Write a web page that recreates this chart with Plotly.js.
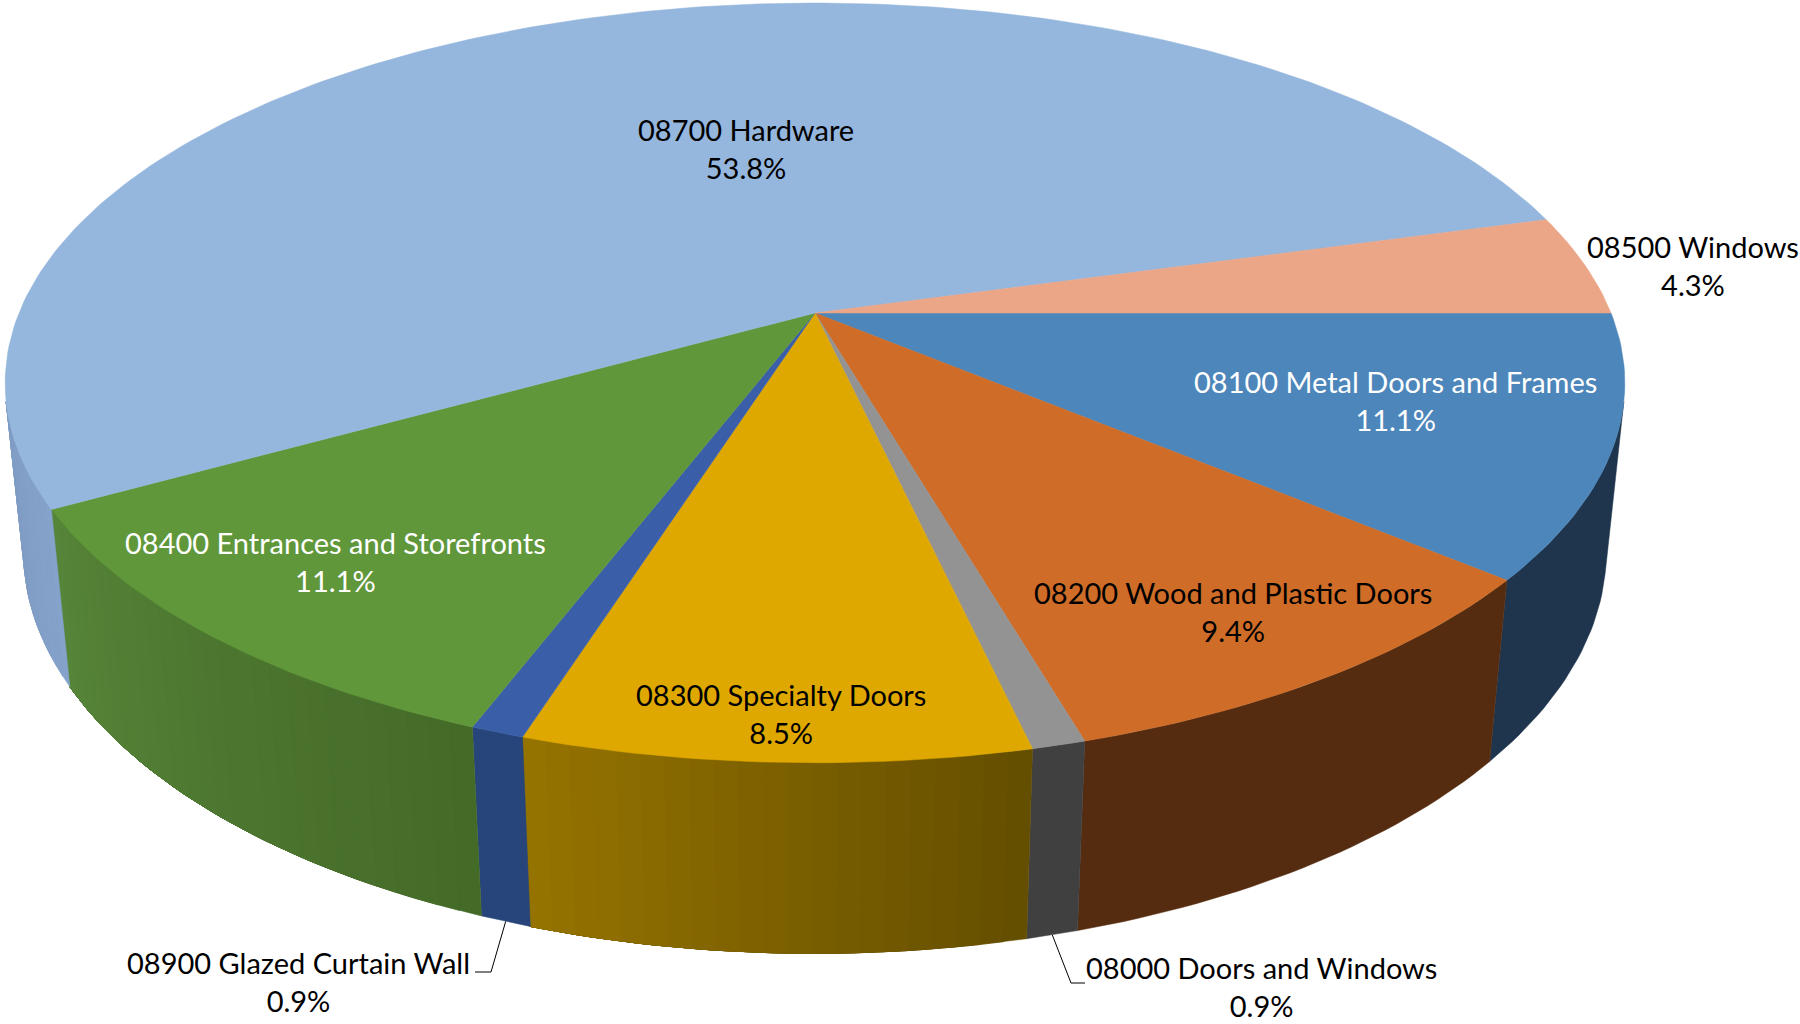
<!DOCTYPE html>
<html>
<head>
<meta charset="utf-8">
<script src="https://cdn.plot.ly/plotly-3.0.1.min.js"></script>
<style>html,body{margin:0;padding:0;background:#fff}#chart{width:1800px;height:1024px}</style>
</head>
<body>
<div id="chart"></div>
<script>
// Slices run clockwise from the 3 o'clock position.
const categories = ["08100 Metal Doors and Frames", "08200 Wood and Plastic Doors", "08000 Doors and Windows",
  "08300 Specialty Doors", "08900 Glazed Curtain Wall", "08400 Entrances and Storefronts", "08700 Hardware", "08500 Windows"];
const shares = [11.1, 9.4, 0.9, 8.5, 0.9, 11.1, 53.8, 4.3];
const topColors = ["#4D86BA", "#CE6C28", "#939393", "#DFA800", "#3A5FA8", "#60973B", "#95B6DD", "#EBA587"];
const rimStart = ["#1F354D", "#552C10", "#404040", "#634D00", "#27457A", "#446928", "#84A2CA", "#9A6A52"];
const rimEnd = ["#1F354D", "#552C10", "#404040", "#967400", "#27457A", "#568538", "#7F9CC4", "#9A6A52"];
const labelColors = ["#FFFFFF", "#000000", "#000000", "#000000", "#000000", "#FFFFFF", "#000000", "#000000"];

// Perspective projection of the disc: h = 0 is the top face, h = 1 the bottom rim.
const cam = {cx: 815, cy: 313, a: 796, b: 367, k: 0.184, m: 0.0226, e: -170};
function project(deg, radius, h) {
  const t = deg * Math.PI / 180;
  const u = radius * Math.cos(t), v = -radius * Math.sin(t);
  const w = 1 + cam.k * v + cam.m * h;
  return [cam.cx + cam.a * u / w, cam.cy - (cam.b * v + cam.e * h) / w];
}

function mix(c1, c2, f) {
  const p = c => [1, 3, 5].map(i => parseInt(c.substr(i, 2), 16));
  const a = p(c1), b = p(c2);
  return "rgb(" + a.map((x, i) => Math.round(x + (b[i] - x) * f)).join(",") + ")";
}

const total = shares.reduce((s, x) => s + x, 0);
let cursor = 0;
const spans = shares.map(s => {
  const from = cursor;
  cursor += s / total * 360;
  return [from, cursor];
});

// The outer wall is visible between the two silhouette angles of the projected disc.
const wallFrom = 13.4, wallTo = 166.6;

const rimTraces = [], faceTraces = [];
categories.forEach((name, i) => {
  const from = Math.max(spans[i][0], wallFrom), to = Math.min(spans[i][1], wallTo);
  if (to > from) {
    // Each shaded strip runs on to the slice's end and the next one paints over it,
    // so no background shows through between neighbouring strips.
    const sameShade = rimStart[i] === rimEnd[i];
    const n = sameShade ? 1 : Math.max(2, Math.ceil((to - from) / 1.5));
    for (let j = 0; j < n; j++) {
      const a0 = from + (to - from) * j / n;
      const col = mix(rimStart[i], rimEnd[i], (j + 0.5) / n);
      const xs = [], ys = [];
      const steps = Math.max(2, Math.ceil((to - a0) / 1));
      for (let s = 0; s <= steps; s++) {
        const p = project(a0 + (to - a0) * s / steps, 1, 0);
        xs.push(p[0]); ys.push(p[1]);
      }
      for (let s = steps; s >= 0; s--) {
        const p = project(a0 + (to - a0) * s / steps, 1, 1);
        xs.push(p[0]); ys.push(p[1]);
      }
      xs.push(xs[0]); ys.push(ys[0]);
      rimTraces.push({
        type: "scatter", mode: "lines", fill: "toself", fillcolor: col, name: name,
        x: xs, y: ys, line: {color: col, width: 0.5}, hoverinfo: "skip", showlegend: false
      });
    }
  }
  // Top face wedge.
  const xs = [cam.cx], ys = [cam.cy];
  const steps = Math.max(2, Math.ceil((spans[i][1] - spans[i][0]) / 1));
  for (let j = 0; j <= steps; j++) {
    const p = project(spans[i][0] + (spans[i][1] - spans[i][0]) * j / steps, 1, 0);
    xs.push(p[0]); ys.push(p[1]);
  }
  xs.push(cam.cx); ys.push(cam.cy);
  faceTraces.push({
    type: "scatter", mode: "lines", fill: "toself", fillcolor: topColors[i], name: name,
    x: xs, y: ys, line: {color: topColors[i], width: 0.5},
    text: name + ": " + shares[i].toFixed(1) + "%", hoverinfo: "text", showlegend: false
  });
});

// Leader lines for the two thin slices, from the rim out to an elbow beside the label.
const elbows = {2: [[1071, 983], [1085, 983]], 4: [[491, 972], [475, 972]]};
const leaders = Object.keys(elbows).map(k => {
  const i = +k;
  const start = project((spans[i][0] + spans[i][1]) / 2, 1, 1);
  const path = [start].concat(elbows[k]);
  return {
    type: "scatter", mode: "lines", x: path.map(p => p[0]), y: path.map(p => p[1]),
    line: {color: "#000000", width: 1}, hoverinfo: "skip", showlegend: false
  };
});

const labelAt = [[1395, 400], [1233, 611], [1261, 986], [781, 713], [298, 981], [335, 561], [746, 148], [1693, 265]];
const annotations = categories.map((name, i) => ({
  x: labelAt[i][0], y: labelAt[i][1], xref: "x", yref: "y", showarrow: false, align: "center",
  text: name + "<br>" + shares[i].toFixed(1) + "%",
  font: {family: "Lato, Carlito, sans-serif", size: 29, color: labelColors[i]}
}));

Plotly.newPlot("chart", rimTraces.concat(faceTraces, leaders), {
  width: 1800, height: 1024, margin: {l: 0, r: 0, t: 0, b: 0},
  paper_bgcolor: "#FFFFFF", plot_bgcolor: "#FFFFFF", showlegend: false,
  xaxis: {range: [0, 1800], visible: false, fixedrange: true},
  yaxis: {range: [1024, 0], visible: false, fixedrange: true},
  annotations: annotations
}, {displayModeBar: false});
</script>
</body>
</html>
